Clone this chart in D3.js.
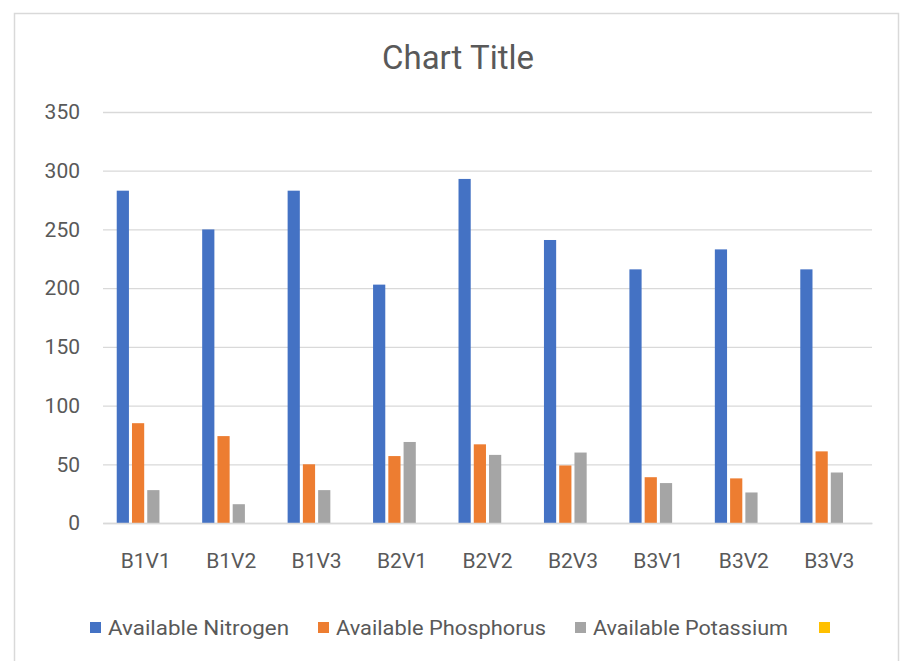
<!DOCTYPE html>
<html>
<head>
<meta charset="utf-8">
<script src="https://cdn.jsdelivr.net/npm/d3@7"></script>
<style>
  body { margin: 0; background: #fff; }
  svg text { font-family: Roboto, "Open Sans", sans-serif; fill: #595959; }
</style>
</head>
<body>
<svg id="chart" width="913" height="661"></svg>
<script>
// data
const categories = ["B1V1", "B1V2", "B1V3", "B2V1", "B2V2", "B2V3", "B3V1", "B3V2", "B3V3"]
const seriesNames = ["Available Nitrogen", "Available Phosphorus", "Available Potassium", ""]
const nitrogen = [283, 250, 283, 203, 293, 241, 216, 233, 216]
const phosphorus = [85, 74, 50, 57, 67, 49, 39, 38, 61]
const potassium = [28, 16, 28, 69, 58, 60, 34, 26, 43]
const empty = [null, null, null, null, null, null, null, null, null]
const yTicks = [0, 50, 100, 150, 200, 250, 300, 350]
const colors = ["#4472c4", "#ed7d31", "#a5a5a5", "#ffc000"]

const allSeries = [nitrogen, phosphorus, potassium, empty]

const svg = d3.select("#chart")

// chart frame
svg.append("rect")
  .attr("x", 14.5).attr("y", 13.5)
  .attr("width", 884).attr("height", 700)
  .attr("fill", "#fff")
  .attr("stroke", "#d9d9d9")
  .attr("stroke-width", 1.5)

var margin = { top: 112, left: 103, right: 41, bottom: 138 }
var width = 913 - margin.left - margin.right,
  height = 661 - margin.top - margin.bottom

var g = svg.append("g").attr("transform", "translate(" + margin.left + "," + margin.top + ")")

var x0 = d3.scaleBand().domain(categories).range([0, width])
var x1 = d3.scaleBand().domain(d3.range(allSeries.length))
  .range([0, x0.bandwidth()]).paddingInner(0.2).paddingOuter(0.9)
var y = d3.scaleLinear().domain([0, 350]).range([height, 0])

// gridlines
g.append("g")
  .call(d3.axisLeft(y).tickValues(yTicks).tickSize(-width).tickFormat(""))
  .call(s => s.select(".domain").remove())
  .call(s => s.selectAll("line").attr("stroke", "#d9d9d9").attr("stroke-width", 1.3))

// y labels
g.append("g")
  .call(d3.axisLeft(y).tickValues(yTicks).tickSize(0).tickPadding(23))
  .call(s => s.select(".domain").remove())
  .call(s => s.selectAll("text").attr("font-size", 21).attr("fill", "#595959")
    .style("font-family", "Roboto, sans-serif"))

// bars
allSeries.forEach(function (vals, si) {
  g.append("g").selectAll("rect")
    .data(vals.map((v, i) => ({ cat: categories[i], v: v })).filter(d => d.v != null))
    .enter().append("rect")
    .attr("x", d => x0(d.cat) + x1(si))
    .attr("width", x1.bandwidth())
    .attr("y", d => y(d.v))
    .attr("height", d => height - y(d.v))
    .attr("fill", colors[si])
})

// x axis baseline + labels
g.append("g")
  .attr("transform", "translate(0," + height + ")")
  .call(d3.axisBottom(x0).tickSize(0).tickPadding(30))
  .call(s => s.select(".domain").attr("stroke", "#d9d9d9").attr("stroke-width", 1.5))
  .call(s => s.selectAll("text").attr("font-size", 21).attr("fill", "#595959")
    .style("font-family", "Roboto, sans-serif"))

// title
svg.append("text")
  .attr("x", 458).attr("y", 69)
  .attr("text-anchor", "middle")
  .attr("font-size", 33)
  .text("Chart Title")

// legend
var legendX = [90, 318, 575, 819]
var legendW = [181, 210, 195, 0]
var legend = svg.append("g")
seriesNames.forEach(function (name, i) {
  legend.append("rect")
    .attr("x", legendX[i]).attr("y", 622)
    .attr("width", 11).attr("height", 11)
    .attr("fill", colors[i])
  if (name) {
    legend.append("text")
      .attr("x", legendX[i] + 18).attr("y", 635)
      .attr("font-size", 21)
      .attr("textLength", legendW[i])
      .attr("lengthAdjust", "spacingAndGlyphs")
      .text(name)
  }
})
</script>
</body>
</html>
